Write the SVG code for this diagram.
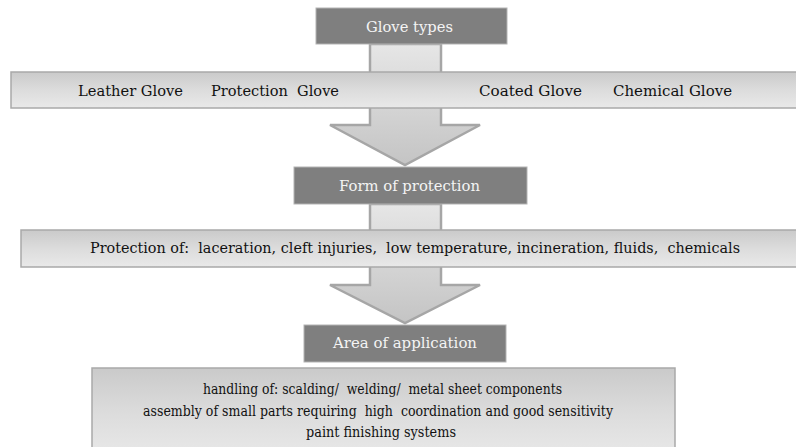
<svg xmlns="http://www.w3.org/2000/svg" width="796" height="447" viewBox="0 0 796 447">
<defs>
<linearGradient id="band" x1="0" y1="0" x2="0" y2="1">
<stop offset="0" stop-color="#cacaca"/>
<stop offset="0.5" stop-color="#dcdcdc"/>
<stop offset="1" stop-color="#e9e9e9"/>
</linearGradient>
<linearGradient id="arr" x1="0" y1="0" x2="0" y2="1">
<stop offset="0" stop-color="#e6e6e6"/>
<stop offset="1" stop-color="#c4c4c4"/>
</linearGradient>
<style>
.band{fill:url(#band);stroke:#a9a9a9;stroke-width:1.5}
.dark{fill:#7f7f7f;stroke:#b3b3b3;stroke-width:1}
.arrow{fill:url(#arr);stroke:#a6a6a6;stroke-width:2.5}
.t{font-size:15px;fill:#111111}
.w{font-size:15px;fill:#f4f4f4;text-anchor:middle}
</style>
</defs>
<g id="connectors">
<path class="arrow" d="M370,44 L441,44 L441,125 L480,125 L405,165 L330,125 L370,125 Z"/>
<path class="arrow" d="M370,204 L441,204 L441,285 L480,285 L405,323 L330,285 L370,285 Z"/>
</g>
<g font-family="DejaVu Serif, serif">
<g id="glove-types">
<rect class="dark" x="316" y="8" width="191" height="36"/>
<text class="w" x="409.5" y="32" textLength="87" lengthAdjust="spacingAndGlyphs">Glove types</text>
</g>
<g id="types-band">
<rect class="band" x="11" y="72" width="790" height="36"/>
<text class="t" x="78" y="96" textLength="105" lengthAdjust="spacingAndGlyphs">Leather Glove</text>
<text class="t" x="211" y="96" textLength="128" lengthAdjust="spacingAndGlyphs" xml:space="preserve">Protection  Glove</text>
<text class="t" x="479" y="96" textLength="103" lengthAdjust="spacingAndGlyphs">Coated Glove</text>
<text class="t" x="613" y="96" textLength="119" lengthAdjust="spacingAndGlyphs">Chemical Glove</text>
</g>
<g id="form-of-protection">
<rect class="dark" x="294" y="167" width="233" height="37"/>
<text class="w" x="409.5" y="191" textLength="141" lengthAdjust="spacingAndGlyphs">Form of protection</text>
</g>
<g id="protection-band">
<rect class="band" x="21" y="230" width="780" height="37"/>
<text class="t" x="90" y="253" textLength="650" lengthAdjust="spacingAndGlyphs" xml:space="preserve">Protection of:  laceration, cleft injuries,  low temperature, incineration, fluids,  chemicals</text>
</g>
<g id="area-of-application">
<rect class="dark" x="304" y="325" width="202" height="37"/>
<text class="w" x="405" y="348" textLength="144" lengthAdjust="spacingAndGlyphs">Area of application</text>
</g>
<g id="application-box">
<rect class="band" x="92" y="368" width="583" height="90"/>
<text class="t" x="203" y="394" textLength="359" lengthAdjust="spacingAndGlyphs" xml:space="preserve">handling of: scalding/  welding/  metal sheet components</text>
<text class="t" x="143" y="416" textLength="470" lengthAdjust="spacingAndGlyphs" xml:space="preserve">assembly of small parts requiring  high  coordination and good sensitivity</text>
<text class="t" x="306" y="437" textLength="150" lengthAdjust="spacingAndGlyphs">paint finishing systems</text>
</g>
</g>
</svg>
